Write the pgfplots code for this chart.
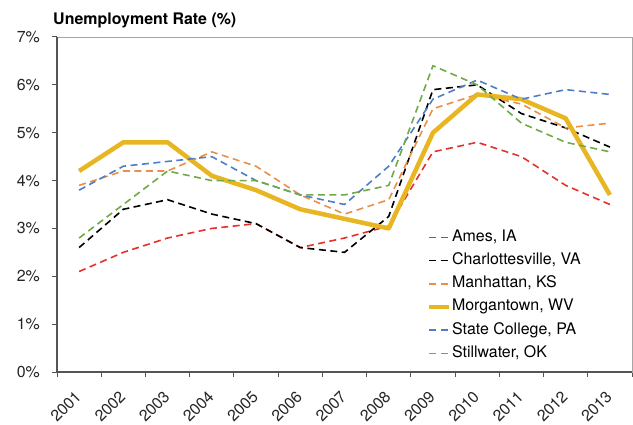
\documentclass[border=0pt]{standalone}
\usepackage{pgfplots}
\pgfplotsset{compat=1.18}
\usepackage{pgfplotstable}
\usepackage{fontspec}
\setmainfont{TeX Gyre Heros}
\definecolor{cRed}{HTML}{E6302B}
\definecolor{cOrange}{HTML}{E8904A}
\definecolor{cGold}{HTML}{E8B622}
\definecolor{cBlue}{HTML}{4D7FC7}
\definecolor{cGreen}{HTML}{6FAA46}
\definecolor{axgray}{HTML}{555555}
\tikzset{dsh/.style={line width=1.6bp, dash pattern=on 7bp off 4.5bp}}
\pgfplotstableread{
x Ames Charl Manh Morg State Still
0 2.1 2.6 3.9 4.2 3.8 2.8
1 2.5 3.4 4.2 4.8 4.3 3.5
2 2.8 3.6 4.2 4.8 4.4 4.2
3 3.0 3.3 4.6 4.1 4.5 4.0
4 3.1 3.1 4.3 3.8 4.0 4.0
5 2.6 2.6 3.7 3.4 3.7 3.7
6 2.8 2.5 3.3 3.2 3.5 3.7
7 3.05 3.25 3.6 3.0 4.3 3.9
8 4.6 5.9 5.5 5.0 5.7 6.4
9 4.8 6.0 5.8 5.8 6.1 6.0
10 4.5 5.4 5.6 5.7 5.7 5.2
11 3.9 5.1 5.1 5.3 5.9 4.8
12 3.5 4.7 5.2 3.7 5.8 4.6
}\data
\begin{document}
\fontsize{16}{19}\selectfont
\begin{tikzpicture}
\begin{axis}[
  name=ax,
  at={(0,0)}, anchor=south west,
  scale only axis, width=575bp, height=335bp,
  xmin=-0.5, xmax=12.5, ymin=0, ymax=7,
  axis line style={draw=gray!70, line width=0.8bp},
  xtick={0,...,12},
  xticklabels={2001,2002,2003,2004,2005,2006,2007,2008,2009,2010,2011,2012,2013},
  major x tick style={draw=none},
  minor xtick={-0.5,0.5,...,12.5},
  minor tick length=5bp,
  minor x tick style={draw=axgray, line width=1bp},
  ytick={0,1,...,7},
  major tick length=5bp,
  major y tick style={draw=axgray, line width=1bp},
  tick align=outside,
  tick pos=left,
  /pgf/number format/assume math mode=true,
  yticklabel={\pgfmathprintnumber{\tick}\%},
  yticklabel style={anchor=east, inner sep=0pt, xshift=-12bp, text=black!85},
  xticklabel style={yshift=-12.5bp, xshift=-5bp, rotate=45, anchor=north east, inner sep=0pt, text=black!85},
  legend style={at={(0.638,0.443)}, anchor=north west, draw=none, fill=none,
    row sep=0pt, column sep=0pt,
    nodes={inner xsep=0.5bp, inner ysep=2.6bp, text height=13bp, text depth=5bp}},
  legend cell align=left,
  legend image code/.code={\draw[#1] (0bp,0bp) -- (20bp,0bp);},
  every axis plot/.append style={line join=round},
]
\addplot[cRed, dsh] table[x=x, y=Ames] {\data};
\addlegendentry{Ames, IA}
\addplot[black, dsh] table[x=x, y=Charl] {\data};
\addlegendentry{Charlottesville, VA}
\addplot[cOrange, dsh] table[x=x, y=Manh] {\data};
\addlegendentry{Manhattan, KS}
\addplot[cGold, line width=4.5bp] table[x=x, y=Morg] {\data};
\addlegendentry{Morgantown, WV}
\addplot[cBlue, dsh] table[x=x, y=State] {\data};
\addlegendentry{State College, PA}
\addplot[cGreen, dsh] table[x=x, y=Still] {\data};
\addlegendentry{Stillwater, OK}
\end{axis}
\draw[axgray, line width=1.6bp] (ax.north west) -- (ax.south west) -- (ax.south east);
\node[anchor=base west, font=\bfseries, inner sep=0pt] at (ax.north west) [xshift=-4bp, yshift=12bp] {Unemployment Rate (\%)};
\pgfresetboundingbox
\path[use as bounding box] (-57bp,-53bp) rectangle (576bp,372bp);
\end{tikzpicture}
\end{document}
